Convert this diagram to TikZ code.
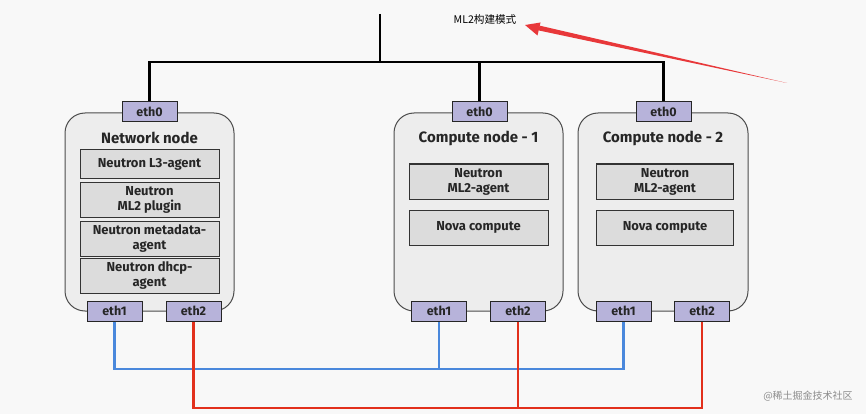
\documentclass[tikz,border=0pt]{standalone}
\usepackage{fontspec}
\setmainfont{Fira Sans}
\newfontfamily\cjk{Noto Sans CJK SC}
\usetikzlibrary{arrows.meta}
\definecolor{bg}{HTML}{F8F8F8}
\definecolor{outerfill}{HTML}{EDEDED}
\definecolor{innerfill}{HTML}{DCDCDC}
\definecolor{ethfill}{HTML}{B7B3DA}
\definecolor{wireblue}{HTML}{4A88DC}
\definecolor{wirered}{HTML}{E2301C}
\definecolor{arrowred}{HTML}{E8383A}
\tikzset{
  hostbox/.style={draw=black!70, fill=outerfill, rounded corners=20pt, line width=1pt, minimum width=169pt, minimum height=198pt},
  titletext/.style={font=\bfseries\fontsize{15}{17}\selectfont, text=black!85},
  svcbox/.style={draw=black!80, fill=innerfill, line width=1pt, minimum width=139pt, align=center, font=\bfseries\fontsize{13}{15}\selectfont, text=black!85, inner sep=1pt},
  ethbox/.style={draw=black!85, fill=ethfill, line width=1pt, minimum width=55pt, minimum height=20pt, font=\bfseries\fontsize{12.5}{13}\selectfont, text=black!85, inner sep=0pt},
  bus/.style={line width=2.8pt, black},
  bluewire/.style={line width=2.6pt, wireblue},
  redwire/.style={line width=2.6pt, wirered},
}
\begin{document}
\begin{tikzpicture}[x=1pt,y=-1pt]
\fill[bg] (0,0) rectangle (866,414);
\useasboundingbox (0,0) rectangle (866,414);

% host boxes
\node[hostbox] (net) at (149.5,212) {};
\node[hostbox] (c1) at (478.5,212) {};
\node[hostbox, minimum width=170pt] (c2) at (663,212) {};

% titles
\node[titletext] (nett) at (149.5,138) {Network node};
\node[titletext] (c1t) at (478.5,138) {Compute node - 1};
\node[titletext] (c2t) at (663,138) {Compute node - 2};

% network services
\node[svcbox, minimum height=28pt] (l3) at (149.5,164) {Neutron L3-agent};
\node[svcbox, minimum height=35pt] (ml2p) at (149.5,199.5) {Neutron\\ML2 plugin};
\node[svcbox, minimum height=35pt] (meta) at (149.5,238.5) {Neutron metadata-\\agent};
\node[svcbox, minimum height=35pt] (dhcp) at (149.5,275.5) {Neutron dhcp-\\agent};

% compute services
\node[svcbox, minimum height=35pt] (c1a) at (478.5,181.5) {Neutron\\ML2-agent};
\node[svcbox, minimum height=35pt] (c1n) at (478.5,227.5) {Nova compute};
\node[svcbox, minimum height=35pt, minimum width=137pt] (c2a) at (665,181.5) {Neutron\\ML2-agent};
\node[svcbox, minimum height=35pt, minimum width=137pt] (c2n) at (665,227.5) {Nova compute};

% interfaces
\node[ethbox] (neteth0) at (149.5,112) {eth0};
\node[ethbox] (c1eth0) at (479.5,112) {eth0};
\node[ethbox] (c2eth0) at (663.5,112) {eth0};
\node[ethbox] (neteth1) at (114.5,311) {eth1};
\node[ethbox] (neteth2) at (193.5,311) {eth2};
\node[ethbox] (c1eth1) at (439,311) {eth1};
\node[ethbox] (c1eth2) at (518,311) {eth2};
\node[ethbox] (c2eth1) at (623.5,311) {eth1};
\node[ethbox] (c2eth2) at (702,311) {eth2};

% management bus
\coordinate (bustop) at (380,14);
\coordinate (busL) at (149.5,62);
\coordinate (busR) at (663.5,62);
\draw[bus] (neteth0.north) -- (busL) -- (busR) -- (c2eth0.north);
\draw[bus] (c1eth0.north) -- (c1eth0.north |- busL);
\draw[bus] (bustop) -- (bustop |- busL);

% blue network
\coordinate (blueY) at (0,369);
\draw[bluewire] (neteth1.south) -- (neteth1.south |- blueY) -| (c2eth1.south);
\draw[bluewire] (c1eth1.south) -- (c1eth1.south |- blueY);

% red network
\coordinate (redY) at (0,408);
\draw[redwire] (neteth2.south) -- (neteth2.south |- redY) -| (c2eth2.south);
\draw[redwire] (c1eth2.south) -- (c1eth2.south |- redY);

% caption and arrow
\node[font=\cjk\fontsize{10.6}{12}\selectfont, text=black] (cap) at (485,19) {ML2构建模式};
\coordinate (tail) at (787,83);
\coordinate (tip) at (525,25);
\fill[arrowred] (tail) -- (539.5,25.6) -- (538.5,30.4) -- cycle;
\fill[arrowred] (tip) -- (540.5,22.5) -- (537.5,35.5) -- cycle;

% watermark
\node[font=\cjk\fontsize{10}{11}\selectfont, text=black!45] (wm) at (808,396) {@稀土掘金技术社区};
\end{tikzpicture}
\end{document}
